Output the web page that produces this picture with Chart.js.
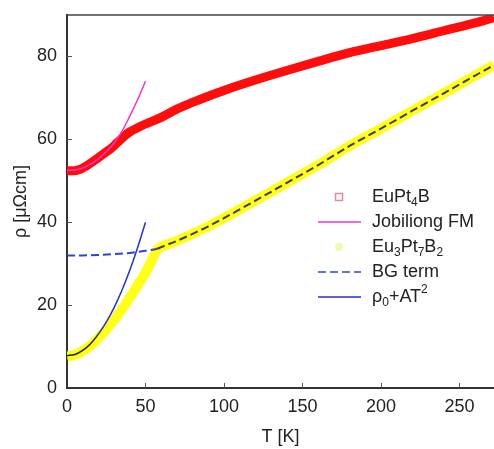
<!DOCTYPE html>
<html>
<head>
<meta charset="utf-8">
<script src="https://cdn.jsdelivr.net/npm/chart.js@4/dist/chart.umd.min.js"></script>
<style>
  html, body { margin: 0; padding: 0; background: #fff; }
  canvas { display: block; }
</style>
</head>
<body>
<canvas id="rho" width="494" height="449"></canvas>
<script>
// tick labels
const xTicks = [0, 50, 100, 150, 200, 250];
const yTicks = [0, 20, 40, 60, 80];

const tEuPt4B   = [0, 4, 8, 12, 16, 20, 24, 28, 32, 36, 40, 45, 50, 60, 70, 80, 90, 100, 120, 140, 160, 180, 200, 220, 240, 260, 272];
const rhoEuPt4B = [52.4, 52.4, 52.7, 53.5, 54.5, 55.6, 56.7, 57.8, 59.2, 60.6, 61.8, 62.8, 63.7, 65.3, 67.3, 68.9, 70.4, 71.8, 74.3, 76.6, 78.8, 80.9, 82.6, 84.3, 86.2, 88.1, 89.4];

// Jobiliong FM fit
const tFM   = [0, 5, 10, 15, 20, 25, 30, 35, 40, 45, 50];
const rhoFM = [52.5, 52.6, 53.1, 54.0, 55.3, 57.0, 59.1, 61.9, 65.6, 69.6, 74.0];

// Eu3Pt7B2 measured
const tEu3   = [0, 5, 10, 15, 20, 25, 30, 35, 40, 45, 50, 54, 57.5, 60, 70, 80, 90, 100, 120, 140, 160, 180, 200, 220, 240, 260, 272];
const rhoEu3 = [7.6, 8.0, 8.9, 10.2, 12.0, 14.1, 16.4, 19.0, 21.8, 24.7, 27.8, 30.7, 33.4, 34.0, 35.5, 37.2, 39.0, 41.0, 45.2, 49.5, 53.8, 58.4, 62.6, 66.9, 71.1, 75.4, 77.9];

// Bloch-Grueneisen term
const tBG   = [0, 10, 20, 30, 40, 50, 57.5, 60, 70, 80, 90, 100, 120, 140, 160, 180, 200, 220, 240, 260, 272];
const rhoBG = [32.0, 32.0, 32.1, 32.3, 32.6, 33.1, 33.6, 34.0, 35.5, 37.2, 39.0, 41.0, 45.2, 49.5, 53.8, 58.4, 62.6, 66.9, 71.1, 75.4, 77.9];

// rho0 + A T^2
const tT2   = [0, 5, 10, 15, 20, 25, 30, 35, 40, 45, 50];
const rhoT2 = [7.8, 8.1, 9.1, 10.7, 13.0, 15.9, 19.4, 23.6, 28.4, 33.9, 40.0];

const pts = (xs, ys) => xs.map((x, i) => ({ x: x, y: ys[i] }));

const FONT = '"Liberation Sans", Arial, sans-serif';

// frame, inward ticks and the legend
const extras = {
  id: 'extras',
  afterDraw(chart) {
    const ctx = chart.ctx;
    const area = chart.chartArea;
    const xs = chart.scales.x, ys = chart.scales.y;
    ctx.save();
    ctx.strokeStyle = '#444';
    ctx.lineWidth = 1.5;
    ctx.beginPath();
    ctx.moveTo(area.left, area.top);
    ctx.lineTo(area.right, area.top);
    ctx.stroke();

    ctx.strokeStyle = '#555';
    ctx.lineWidth = 1;
    xTicks.forEach(v => {
      if (v === 0) return;
      const px = Math.round(xs.getPixelForValue(v)) + 0.5;
      ctx.beginPath();
      ctx.moveTo(px, area.bottom);
      ctx.lineTo(px, area.bottom - 5);
      ctx.stroke();
    });
    yTicks.forEach(v => {
      if (v === 0) return;
      const py = Math.round(ys.getPixelForValue(v)) + 0.5;
      ctx.beginPath();
      ctx.moveTo(area.left, py);
      ctx.lineTo(area.left + 5, py);
      ctx.stroke();
    });

    // legend
    const tx = 372, mx = 339;
    const rows = [197, 222, 247, 272, 297];
    ctx.textBaseline = 'middle';
    ctx.fillStyle = '#222';

    function rich(x, y, parts) {
      parts.forEach(p => {
        const small = p[1] !== 0;
        ctx.font = (small ? '12px ' : '18px ') + FONT;
        const dy = p[1] === 1 ? 6 : (p[1] === -1 ? -7 : 0);
        ctx.fillText(p[0], x, y + dy);
        x += ctx.measureText(p[0]).width;
      });
    }

    // EuPt4B marker
    ctx.strokeStyle = '#e88a9a';
    ctx.lineWidth = 1.5;
    ctx.strokeRect(mx - 3.5, rows[0] - 3.5, 7, 7);
    rich(tx, rows[0], [['EuPt', 0], ['4', 1], ['B', 0]]);

    ctx.strokeStyle = '#ee33cc';
    ctx.lineWidth = 1.5;
    ctx.beginPath(); ctx.moveTo(318, rows[1]); ctx.lineTo(361, rows[1]); ctx.stroke();
    rich(tx, rows[1], [['Jobiliong FM', 0]]);

    ctx.fillStyle = '#f2f8b0';
    ctx.beginPath(); ctx.arc(mx, rows[2], 4, 0, Math.PI * 2); ctx.fill();
    ctx.fillStyle = '#222';
    rich(tx, rows[2], [['Eu', 0], ['3', 1], ['Pt', 0], ['7', 1], ['B', 0], ['2', 1]]);

    ctx.strokeStyle = '#3344cc';
    ctx.setLineDash([8, 4]);
    ctx.beginPath(); ctx.moveTo(318, rows[3]); ctx.lineTo(361, rows[3]); ctx.stroke();
    ctx.setLineDash([]);
    rich(tx, rows[3], [['BG term', 0]]);

    ctx.strokeStyle = '#2233cc';
    ctx.beginPath(); ctx.moveTo(318, rows[4]); ctx.lineTo(361, rows[4]); ctx.stroke();
    rich(tx, rows[4], [['ρ', 0], ['0', 1], ['+AT', 0], ['2', -1]]);
    ctx.restore();
  }
};

new Chart(document.getElementById('rho'), {
  type: 'scatter',
  data: {
    datasets: [
      {
        label: 'EuPt4B', data: pts(tEuPt4B, rhoEuPt4B), showLine: true,
        borderColor: '#ff0d0d', borderWidth: 9, pointRadius: 0, cubicInterpolationMode: 'monotone', order: 5
      },
      {
        label: 'Jobiliong FM', data: pts(tFM, rhoFM), showLine: true,
        borderColor: '#ee33cc', borderWidth: 1.5, pointRadius: 0, cubicInterpolationMode: 'monotone', order: 4
      },
      {
        label: 'Eu3Pt7B2', data: pts(tEu3, rhoEu3), showLine: true,
        borderColor: '#ffff1a', borderWidth: 10, pointRadius: 0, cubicInterpolationMode: 'monotone', order: 3
      },
      {
        label: 'BG term', data: pts(tBG, rhoBG), showLine: true,
        borderColor: '#3344cc', borderWidth: 2, borderDash: [8, 4], pointRadius: 0, cubicInterpolationMode: 'monotone', order: 2,
        segment: { borderColor: c => c.p0.parsed.x >= 57 ? '#3c3c5e' : '#3344cc' }
      },
      {
        label: 'rho0+AT2', data: pts(tT2, rhoT2), showLine: true,
        borderColor: '#2233cc', borderWidth: 1.5, pointRadius: 0, cubicInterpolationMode: 'monotone', order: 1,
        segment: { borderColor: c => c.p0.parsed.x < 20 ? '#202038' : '#2233cc' }
      }
    ]
  },
  options: {
    responsive: false,
    animation: false,
    layout: { padding: { top: 15, left: 0, right: 0, bottom: 0 } },
    plugins: { legend: { display: false }, tooltip: { enabled: false } },
    scales: {
      x: {
        type: 'linear', min: 0, max: 272,
        afterBuildTicks: s => { s.ticks = xTicks.map(v => ({ value: v })); },
        afterFit: s => { s.height = 61; s.paddingLeft = 0; s.paddingRight = 0; },
        grid: { display: false, drawTicks: false },
        border: { display: true, color: '#333', width: 2 },
        ticks: { color: '#222', font: { family: FONT, size: 18 }, padding: 8, maxRotation: 0 },
        title: { display: true, text: 'T [K]', color: '#222', font: { family: FONT, size: 18 }, padding: { top: 0, bottom: 1 } }
      },
      y: {
        type: 'linear', min: 0, max: 90,
        afterBuildTicks: s => { s.ticks = yTicks.map(v => ({ value: v })); },
        afterFit: s => { s.width = 67; s.paddingTop = 0; s.paddingBottom = 0; },
        grid: { display: false, drawTicks: false },
        border: { display: true, color: '#333', width: 2 },
        ticks: { color: '#222', font: { family: FONT, size: 18 }, padding: 10 },
        title: { display: true, text: 'ρ [μΩcm]', color: '#222', font: { family: FONT, size: 18 }, padding: { top: 10, bottom: 0 } }
      }
    }
  },
  plugins: [extras]
});
</script>
</body>
</html>
